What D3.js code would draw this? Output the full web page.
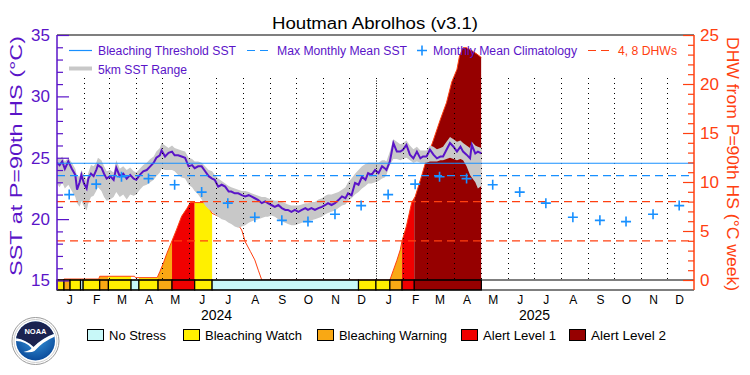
<!DOCTYPE html>
<html>
<head>
<meta charset="utf-8">
<script src="https://cdn.jsdelivr.net/npm/d3@7"></script>
<style>
  body { margin: 0; background: #fff; }
  svg text { font-family: "Liberation Sans", Arial, sans-serif; }
</style>
</head>
<body>
<svg id="chart" width="750" height="375"></svg>
<script>
// ---- data ----
// days counted from 2024-01-01
const sstDay = [0,3,6,9,13,17,21,23,26,28, 31,34,36,39,42,45,47,51,54,57,
  61,65,68,72,76,80,84,88,91,95, 99,103,107,111,114,118,120,124,128,132,
  135,139,143,147,151,155,158,162,166,170, 174,178,181,185,189,193,197,200,204,208,
  212,216,220,223,227,231,235,239,242,246, 250,254,258,262,265,269,273,277,281,285,
  288,292,296,300,304,308,311,315,319,323, 327,331,334,338,342,346,350,354,357,361,
  365,369,373,376,378,382,386,390,394,397, 401,405,409,413,417,420,424,428,432,436,
  440,443,447,451,455,459,463,466,470,474, 476,480,483,487];
const sstMean = [24.6,24.4,24.7,24.1,24.7,24.1,23.6,22.4,23.0,23.6,
  22.9,22.5,23.3,23.7,23.5,24.0,24.4,24.2,23.7,23.3,
  23.5,23.2,24.2,23.5,23.7,23.3,23.6,23.3,23.2,23.6,
  23.9,24.0,24.3,24.6,25.0,25.2,25.6,25.1,25.4,25.5,
  25.2,25.2,25.1,25.0,24.3,24.4,24.15,24.3,24.3,23.9,
  23.5,23.3,23.2,22.65,22.8,22.65,22.25,22.25,22.1,22.1,
  21.95,21.85,21.95,21.85,21.7,21.55,21.3,21.45,21.3,21.15,
  21.0,21.15,20.9,20.75,20.75,20.6,20.75,20.6,20.75,20.9,
  20.75,20.9,20.75,20.9,21.0,21.15,21.3,21.15,21.3,21.55,
  21.85,21.7,22.1,21.95,22.95,22.8,23.45,23.2,23.75,23.6,
  24.0,23.75,24.3,24.15,24.0,24.7,26.2,25.5,25.5,25.65,
  26.05,25.25,24.95,25.5,24.95,25.1,25.1,25.65,25.25,24.95,
  25.1,25.1,25.65,26.2,25.9,25.5,25.9,25.5,25.25,24.95,
  26.05,25.35,25.5,25.35];
const sstMin = [22.9,22.6,23.0,22.5,22.8,22.3,21.8,21.3,21.0,21.5,
  21.0,20.7,21.3,21.8,21.9,22.3,22.6,22.3,21.8,21.5,
  21.6,21.8,22.2,21.8,22.0,21.6,22.0,21.9,22.0,22.4,
  22.7,22.8,23.0,23.2,23.5,23.8,24.1,24.0,24.0,24.0,
  23.9,23.6,23.4,23.3,22.8,22.6,22.3,22.0,21.6,21.1,
  20.8,20.6,20.4,20.2,20.0,19.9,19.7,19.6,19.4,19.3,
  19.4,19.5,19.7,19.8,19.9,20.0,20.1,20.2,20.2,20.3,
  20.2,20.0,19.8,19.7,19.6,19.5,19.5,19.6,19.7,19.8,
  19.8,19.9,20.0,20.1,20.2,20.4,20.5,20.6,20.7,20.9,
  21.1,21.2,21.5,21.7,22.0,22.2,22.5,22.7,22.9,22.9,
  23.0,23.1,23.3,23.4,23.6,24.4,24.9,24.9,24.8,24.9,
  25.0,24.8,24.6,24.7,24.6,24.6,24.6,24.7,24.7,24.7,
  24.8,24.8,24.9,25.0,24.9,24.8,24.9,24.8,24.3,23.6,
  23.4,23.0,22.5,22.7];
const sstMax = [25.0,24.9,25.1,24.7,25.0,24.6,24.1,23.5,23.5,24.0,
  23.6,23.2,23.8,24.4,24.3,24.6,25.0,24.8,24.3,23.9,
  24.0,23.8,24.8,24.1,24.3,24.0,24.2,23.9,23.8,24.1,
  24.4,24.6,24.9,25.1,25.5,25.8,26.2,26.0,25.8,26.0,
  25.8,25.7,25.6,25.5,25.0,24.9,24.7,24.7,24.6,24.3,
  24.0,23.9,23.6,23.3,23.1,22.9,22.7,22.6,22.5,22.4,
  22.3,22.3,22.2,22.1,22.0,21.9,21.8,21.8,21.7,21.6,
  21.5,21.5,21.4,21.3,21.2,21.1,21.1,21.1,21.2,21.3,
  21.3,21.4,21.4,21.6,21.7,21.9,22.0,22.0,22.1,22.2,
  22.4,22.6,23.0,23.3,23.7,24.0,24.3,24.5,24.6,24.6,
  24.6,24.6,24.8,24.8,24.7,25.5,26.5,26.3,26.1,26.2,
  26.4,26.0,25.7,25.9,25.6,25.6,25.6,26.0,25.9,25.7,
  25.8,25.9,26.3,26.7,26.5,26.3,26.4,26.2,26.0,25.8,
  26.3,26.0,25.9,25.8];

const dhwDay = [0,7,8,48,49,89,90,115,118,122,126,132,137,143,149,153,168,172,178,193,
  208,212,216,222,227,231,235,382,386,390,394,396,401,407,411,417,424,432,440,447,
  453,459,462,466,470,476,482,487];
const dhwValue = [0,0,0.1,0.1,0.38,0.38,0.24,0.24,0.85,1.7,2.7,4.0,5.1,6.5,7.3,7.9,7.9,7.7,6.8,6.2,
  5.6,5.1,3.9,2.9,2.05,1.0,0,0,1.0,2.0,3.1,4.0,5.5,7.9,8.5,10.2,12.3,14.3,16.4,18.1,
  20.2,21.5,22.9,23.7,23.7,23.4,23.05,22.7];

// stress level: 0 No Stress, 1 Watch, 2 Warning, 3 Alert 1, 4 Alert 2
const stressStart = [0,8,15,27,30,49,59,85,94,116,132,158,178,346,366,382,396,410];
const stressEnd   = [8,15,27,30,49,59,85,94,116,132,158,178,346,366,382,396,410,487];
const stressLevel = [1,2,1,0,1,2,1,0,1,2,3,1,0,1,1,2,3,4];
const stressNames  = ['No Stress', 'Bleaching Watch', 'Bleaching Warning', 'Alert Level 1', 'Alert Level 2'];
const stressColors = ['#c8f8f8', '#fff000', '#f9a814', '#f00000', '#960000'];

const monthLetters = ['J','F','M','A','M','J','J','A','S','O','N','D'];
const climSST = [22.0, 22.85, 23.45, 23.3, 22.8, 22.2, 21.3, 20.15, 19.9, 19.8, 20.4, 21.1];
const years = [2024, 2025];
const mmmSST = 23.55;
const thresholdSST = 24.55;
const dhwLines = [4, 8];

// ---- setup ----
const purple = '#5a14c8', blue = '#1890ff', orange = '#ff4010', grey = '#c8c8c8';
const svg = d3.select('#chart');
const t0 = new Date(2024, 0, 1);
const dayDate = d => d3.timeDay.offset(t0, d);
const L = 57, R = 694, T = 35, B = 290, S = 280;

const x = d3.scaleTime().domain([t0, new Date(2026, 0, 1)]).range([L, R]);
const ySST = d3.scaleLinear().domain([15, 35]).range([280.5, 35]);
const yDHW = d3.scaleLinear().domain([0, 25]).range([280, 35]);

const sst = sstDay.map((d, i) => ({date: dayDate(d), v: sstMean[i], lo: sstMin[i], hi: sstMax[i]}));
const dhw = dhwDay.map((d, i) => ({date: dayDate(d), v: dhwValue[i]}));

const defs = svg.append('defs');
defs.append('clipPath').attr('id', 'plotclip')
  .append('rect').attr('x', L).attr('y', T).attr('width', R - L).attr('height', S - T);

const plot = svg.append('g').attr('clip-path', 'url(#plotclip)');

// DHW fill coloured by stress level
const dhwArea = d3.area().x(d => x(d.date)).y0(yDHW(0)).y1(d => yDHW(d.v));
stressLevel.forEach((lv, i) => {
  if (lv === 0) return;
  const id = 'seg' + i;
  defs.append('clipPath').attr('id', id).append('rect')
    .attr('x', x(dayDate(stressStart[i]))).attr('y', T)
    .attr('width', x(dayDate(stressEnd[i])) - x(dayDate(stressStart[i]))).attr('height', S - T);
  plot.append('path').datum(dhw)
    .attr('clip-path', 'url(#' + id + ')')
    .attr('d', dhwArea).attr('fill', stressColors[lv]);
});
plot.append('path').datum(dhw)
  .attr('d', d3.line().x(d => x(d.date)).y(d => yDHW(d.v)))
  .attr('fill', 'none').attr('stroke', orange).attr('stroke-width', 1);

// 5km SST range
plot.append('path').datum(sst)
  .attr('d', d3.area().x(d => x(d.date)).y0(d => ySST(d.lo)).y1(d => ySST(d.hi)))
  .attr('fill', grey);

// month dotted lines
const monthStarts = d3.timeMonth.range(new Date(2024, 1, 1), new Date(2026, 0, 1));
svg.append('g').selectAll('line').data(monthStarts).join('line')
  .attr('x1', d => Math.round(x(d)) + 0.5).attr('x2', d => Math.round(x(d)) + 0.5)
  .attr('y1', 78).attr('y2', S)
  .attr('stroke', '#000').attr('stroke-width', 1)
  .attr('stroke-dasharray', d => d.getMonth() === 0 ? '1,1.5' : '1,4');

// SST line
plot.append('path').datum(sst)
  .attr('d', d3.line().x(d => x(d.date)).y(d => ySST(d.v)))
  .attr('fill', 'none').attr('stroke', purple).attr('stroke-width', 2);

// reference lines
const hline = (y, col, dash) => svg.append('line')
  .attr('x1', L).attr('x2', R).attr('y1', y).attr('y2', y)
  .attr('stroke', col).attr('stroke-width', 1.2).attr('stroke-dasharray', dash);
hline(ySST(thresholdSST), blue, null);
hline(ySST(mmmSST), blue, '8,5');
dhwLines.forEach(v => hline(yDHW(v), orange, '8,5'));

// monthly mean climatology
const clim = [];
years.forEach(yr => climSST.forEach((v, m) => clim.push({date: new Date(yr, m, 15), v})));
const plus = (g, cx, cy, s) => g.append('path')
  .attr('d', `M${cx - s},${cy}H${cx + s}M${cx},${cy - s}V${cy + s}`)
  .attr('stroke', blue).attr('stroke-width', 1.6).attr('fill', 'none');
const climG = svg.append('g');
clim.forEach(d => plus(climG, x(d.date), ySST(d.v), 5));

// stress strip
svg.append('g').selectAll('rect').data(stressLevel).join('rect')
  .attr('x', (d, i) => x(dayDate(stressStart[i])))
  .attr('width', (d, i) => x(dayDate(stressEnd[i])) - x(dayDate(stressStart[i])))
  .attr('y', S).attr('height', B - S)
  .attr('fill', d => stressColors[d]).attr('stroke', '#000').attr('stroke-width', 1.2);
[S, B].forEach(y => svg.append('line').attr('x1', L).attr('x2', R).attr('y1', y).attr('y2', y)
  .attr('stroke', '#000').attr('stroke-width', 1.2));
svg.append('line').attr('x1', L).attr('x2', R).attr('y1', T).attr('y2', T)
  .attr('stroke', '#000').attr('stroke-width', 1.2);

// left axis
const gl = svg.append('g').attr('transform', `translate(${L},0)`);
gl.call(d3.axisLeft(ySST).tickValues([15, 20, 25, 30, 35]).tickSizeInner(-12).tickSizeOuter(0).tickPadding(7));
gl.append('g').call(d3.axisLeft(ySST).tickValues(d3.range(16, 35).filter(v => v % 5)).tickSizeInner(-6).tickSizeOuter(0).tickFormat(''));
gl.selectAll('.domain').remove();
gl.selectAll('line').attr('stroke', purple).attr('stroke-width', 1.2);
gl.selectAll('text').attr('fill', purple).attr('font-size', 17).attr('font-family', '"Liberation Sans", Arial, sans-serif');
gl.append('line').attr('y1', T).attr('y2', B).attr('stroke', purple).attr('stroke-width', 1.5);

// right axis
const gr = svg.append('g').attr('transform', `translate(${R},0)`);
gr.call(d3.axisRight(yDHW).tickValues([0, 5, 10, 15, 20, 25]).tickSizeInner(-11).tickSizeOuter(0).tickPadding(6));
gr.append('g').call(d3.axisRight(yDHW).tickValues(d3.range(1, 25).filter(v => v % 5)).tickSizeInner(-6).tickSizeOuter(0).tickFormat(''));
gr.selectAll('.domain').remove();
gr.selectAll('line').attr('stroke', orange).attr('stroke-width', 1.2);
gr.selectAll('text').attr('fill', orange).attr('font-size', 17).attr('font-family', '"Liberation Sans", Arial, sans-serif');
gr.append('line').attr('y1', T).attr('y2', B).attr('stroke', orange).attr('stroke-width', 1.5);

// bottom axis (month letters)
const mids = [];
years.forEach(yr => d3.range(12).forEach(m => mids.push(new Date(yr, m, 15))));
const gb = svg.append('g').attr('transform', `translate(0,${B})`);
gb.call(d3.axisBottom(x).tickValues(mids).tickSize(0).tickPadding(5).tickFormat(d => monthLetters[d.getMonth()]));
gb.select('.domain').remove();
gb.selectAll('text').attr('font-size', 12).attr('fill', '#000').attr('font-family', '"Liberation Sans", Arial, sans-serif');
svg.append('g').selectAll('text').data(years).join('text')
  .attr('x', yr => x(new Date(yr, 6, 2))).attr('y', 319.5)
  .attr('text-anchor', 'middle').attr('font-size', 14).text(yr => yr);

// titles
svg.append('text').attr('x', 375).attr('y', 28.5).attr('text-anchor', 'middle')
  .attr('font-size', 16).attr('textLength', 206).attr('lengthAdjust', 'spacingAndGlyphs')
  .text('Houtman Abrolhos (v3.1)');
svg.append('text').attr('transform', 'translate(21.5,156) rotate(-90)').attr('text-anchor', 'middle')
  .attr('font-size', 16).attr('fill', purple).attr('textLength', 240).attr('lengthAdjust', 'spacingAndGlyphs')
  .text('SST at P=90th HS (°C)');
svg.append('text').attr('transform', 'translate(727,164) rotate(90)').attr('text-anchor', 'middle')
  .attr('font-size', 16).attr('fill', orange).attr('textLength', 254).attr('lengthAdjust', 'spacingAndGlyphs')
  .text('DHW from P=90th HS (°C week)');

// top legend
const lg = svg.append('g').attr('font-size', 12.5);
const ltext = (tx, ty, s, w, col) => lg.append('text').attr('x', tx).attr('y', ty).attr('fill', col)
  .attr('textLength', w).attr('lengthAdjust', 'spacingAndGlyphs').text(s);
lg.append('line').attr('x1', 69).attr('x2', 92).attr('y1', 50.5).attr('y2', 50.5).attr('stroke', blue).attr('stroke-width', 1.2);
ltext(98, 55, 'Bleaching Threshold SST', 138, purple);
lg.append('line').attr('x1', 247).attr('x2', 268).attr('y1', 50.5).attr('y2', 50.5).attr('stroke', blue)
  .attr('stroke-width', 1.2).attr('stroke-dasharray', '8,5');
ltext(277, 55, 'Max Monthly Mean SST', 130, purple);
plus(lg, 422, 50.5, 5);
ltext(433, 55, 'Monthly Mean Climatology', 144, purple);
lg.append('line').attr('x1', 588).attr('x2', 612).attr('y1', 50.5).attr('y2', 50.5).attr('stroke', orange)
  .attr('stroke-width', 1.2).attr('stroke-dasharray', '8,5');
ltext(618, 55, '4, 8 DHWs', 59, orange);
lg.append('line').attr('x1', 69).attr('x2', 92).attr('y1', 68.5).attr('y2', 68.5).attr('stroke', grey).attr('stroke-width', 4);
ltext(98, 73.5, '5km SST Range', 89, purple);

// stress legend
const boxX = [87, 183, 317, 461, 569];
const textW = [57, 97, 108, 73, 75];
const sg = svg.append('g').attr('font-size', 13);
stressNames.forEach((n, i) => {
  sg.append('rect').attr('x', boxX[i] + 0.5).attr('y', 329.5).attr('width', 16).attr('height', 11)
    .attr('fill', stressColors[i]).attr('stroke', '#000').attr('stroke-width', 1);
  sg.append('text').attr('x', boxX[i] + 22).attr('y', 340).attr('textLength', textW[i])
    .attr('lengthAdjust', 'spacingAndGlyphs').text(n);
});

// NOAA logo
const cx = 35.5, cy = 341;
const logo = svg.append('g');
const grad = defs.append('radialGradient').attr('id', 'noaablue').attr('cx', '50%').attr('cy', '40%').attr('r', '60%');
grad.append('stop').attr('offset', '0%').attr('stop-color', '#3a9be0');
grad.append('stop').attr('offset', '100%').attr('stop-color', '#0a4a9a');
defs.append('clipPath').attr('id', 'noaaclip').append('circle').attr('cx', cx).attr('cy', cy).attr('r', 19.5);
logo.append('circle').attr('cx', cx).attr('cy', cy).attr('r', 23.5).attr('fill', '#fff').attr('stroke', '#9a9a9a').attr('stroke-width', 1);
const inner = logo.append('g').attr('clip-path', 'url(#noaaclip)');
inner.append('circle').attr('cx', cx).attr('cy', cy).attr('r', 20).attr('fill', 'url(#noaablue)');
inner.append('path').attr('fill', '#1b2350')
  .attr('d', `M${cx - 21},${cy - 3} Q${cx - 10},${cy - 2} ${cx - 2},${cy + 6} Q${cx + 8},${cy - 4} ${cx + 21},${cy - 8} L${cx + 21},${cy - 22} L${cx - 21},${cy - 22} Z`);
inner.append('path').attr('fill', '#fff')
  .attr('d', `M${cx - 21},${cy - 3} Q${cx - 10},${cy - 2} ${cx - 2},${cy + 6} Q${cx + 8},${cy - 4} ${cx + 21},${cy - 8} L${cx + 21},${cy - 5} Q${cx + 8},${cy} ${cx - 1},${cy + 10} Q${cx - 4},${cy + 12} ${cx - 12},${cy + 11} Q${cx - 4},${cy + 9} ${cx - 4},${cy + 7} Q${cx - 10},${cy} ${cx - 21},${cy} Z`);
logo.append('text').attr('x', cx).attr('y', cy - 7).attr('text-anchor', 'middle')
  .attr('font-size', 7.5).attr('font-weight', 'bold').attr('fill', '#fff').text('NOAA');
logo.append('circle').attr('cx', cx).attr('cy', cy).attr('r', 21.5).attr('fill', 'none').attr('stroke', '#cfcfcf').attr('stroke-width', 1);
</script>
</body>
</html>
